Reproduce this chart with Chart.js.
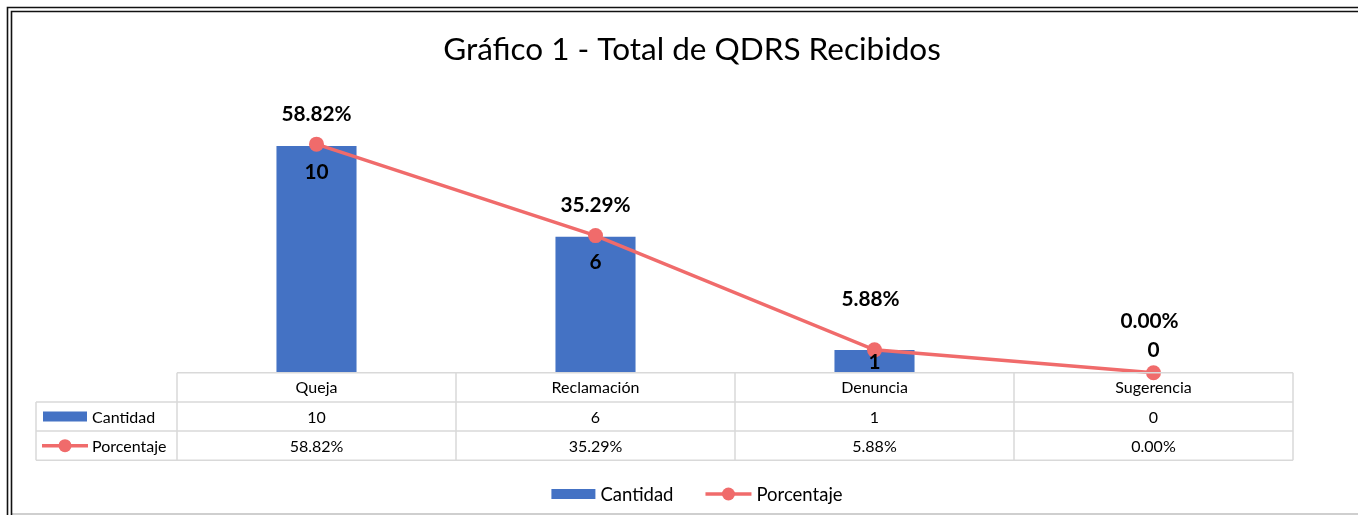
<!DOCTYPE html>
<html>
<head>
<meta charset="utf-8">
<script src="https://cdn.jsdelivr.net/npm/chart.js@4.4.0/dist/chart.umd.min.js"></script>
<style>
    html, body { margin: 0; padding: 0; background: #fff; }
    #wrap { position: relative; width: 1358px; height: 515px; }
</style>
</head>
<body>
<div id="wrap"><canvas id="chart" width="1358" height="515"></canvas></div>
<script>
const categories = ['Queja', 'Reclamación', 'Denuncia', 'Sugerencia'];
const cantidad = [10, 6, 1, 0];
const porcentaje = [58.82, 35.29, 5.88, 0.00];
const cantidadLabels = ['10', '6', '1', '0'];
const porcentajeLabels = ['58.82%', '35.29%', '5.88%', '0.00%'];
const seriesNames = ['Cantidad', 'Porcentaje'];
const titleText = 'Gráfico 1 - Total de QDRS Recibidos';

const BLUE = '#4472C4';
const CORAL = '#F06B6B';
const GRID = '#D9D9D9';
const FONT = 'Lato, "Open Sans", sans-serif';

function drawKey(ctx, type, x, y) {
    // x = left edge of key, y = vertical centre
    if (type === 'bar') {
        ctx.fillStyle = BLUE;
        ctx.fillRect(x, y - 5, 44, 10);
    } else {
        ctx.strokeStyle = CORAL;
        ctx.lineWidth = 3.5;
        ctx.beginPath();
        ctx.moveTo(x, y);
        ctx.lineTo(x + 46, y);
        ctx.stroke();
        ctx.fillStyle = CORAL;
        ctx.beginPath();
        ctx.arc(x + 23, y, 6.5, 0, Math.PI * 2);
        ctx.fill();
    }
}

const extras = {
    id: 'extras',
    beforeDraw(chart) {
        const ctx = chart.ctx;
        ctx.save();
        ctx.fillStyle = '#fff';
        ctx.fillRect(0, 0, chart.width, chart.height);
        ctx.restore();
    },
    afterDraw(chart) {
        const ctx = chart.ctx;
        const area = chart.chartArea;
        const x = chart.scales.x;
        const y = chart.scales.y;
        const y1 = chart.scales.y1;
        const colW = area.width / categories.length;
        ctx.save();

        // outer frame
        ctx.strokeStyle = '#BFBFBF';
        ctx.lineWidth = 1.5;
        ctx.beginPath();
        ctx.moveTo(12, 514);
        ctx.lineTo(chart.width, 514);
        ctx.stroke();
        ctx.strokeStyle = '#111';
        ctx.lineWidth = 1.6;
        [7.5, 11.5].forEach(p => {
            ctx.beginPath();
            ctx.moveTo(p, chart.height);
            ctx.lineTo(p, p);
            ctx.lineTo(chart.width, p);
            ctx.stroke();
        });

        // title
        ctx.fillStyle = '#000';
        ctx.textAlign = 'center';
        ctx.textBaseline = 'alphabetic';
        ctx.font = '31.5px ' + FONT;
        ctx.fillText(titleText, 692, 60);

        // data labels
        ctx.font = 'bold 20.8px ' + FONT;
        ctx.textBaseline = 'middle';
        const base = y.getPixelForValue(0);
        cantidad.forEach((v, i) => {
            const cx = x.getPixelForValue(i);
            const top = y.getPixelForValue(v);
            const h = base - top;
            let ly;
            if (v === 0) ly = base - 22;
            else if (h < 40) ly = (top + base) / 2 + 1;
            else ly = top + 26;
            ctx.fillText(cantidadLabels[i], cx, ly);

            const py = y1.getPixelForValue(porcentaje[i]);
            const lift = h < 40 ? 51 : 30;
            ctx.fillText(porcentajeLabels[i], cx - (h < 40 ? 4 : 0), py - lift);
        });

        // data table
        const t0 = base;
        const rowH = 29.2;
        const leftX = 36;
        ctx.strokeStyle = GRID;
        ctx.lineWidth = 1.5;
        ctx.beginPath();
        ctx.moveTo(area.left, t0); ctx.lineTo(area.right, t0);
        for (let r = 1; r <= 3; r++) {
            ctx.moveTo(leftX, t0 + rowH * r); ctx.lineTo(area.right, t0 + rowH * r);
        }
        for (let c = 0; c <= categories.length; c++) {
            const cx = area.left + colW * c;
            ctx.moveTo(cx, t0); ctx.lineTo(cx, t0 + rowH * 3);
        }
        ctx.moveTo(leftX, t0 + rowH); ctx.lineTo(leftX, t0 + rowH * 3);
        ctx.stroke();

        ctx.fillStyle = '#000';
        ctx.font = '16px ' + FONT;
        ctx.textAlign = 'center';
        categories.forEach((c, i) => {
            const cx = x.getPixelForValue(i);
            ctx.fillText(c, cx, t0 + rowH * 0.5 + 1);
            ctx.fillText(cantidadLabels[i], cx, t0 + rowH * 1.5 + 1);
            ctx.fillText(porcentajeLabels[i], cx, t0 + rowH * 2.5 + 1);
        });
        ctx.textAlign = 'left';
        drawKey(ctx, 'bar', 43, t0 + rowH * 1.5);
        drawKey(ctx, 'line', 42, t0 + rowH * 2.5);
        ctx.fillStyle = '#000';
        ctx.fillText(seriesNames[0], 92, t0 + rowH * 1.5 + 1);
        ctx.fillText(seriesNames[1], 92, t0 + rowH * 2.5 + 1);

        // bottom legend
        ctx.font = '18.5px ' + FONT;
        const w0 = ctx.measureText(seriesNames[0]).width;
        const w1 = ctx.measureText(seriesNames[1]).width;
        const total = 44 + 5 + w0 + 32 + 46 + 5 + w1;
        let lx = 697 - total / 2;
        const ly = 494;
        drawKey(ctx, 'bar', lx, ly);
        ctx.fillStyle = '#000';
        ctx.fillText(seriesNames[0], lx + 49, ly + 1);
        lx += 49 + w0 + 32;
        drawKey(ctx, 'line', lx, ly);
        ctx.fillStyle = '#000';
        ctx.fillText(seriesNames[1], lx + 51, ly + 1);

        ctx.restore();
    }
};

new Chart(document.getElementById('chart'), {
    type: 'bar',
    data: {
        labels: categories,
        datasets: [
            {
                type: 'line',
                label: seriesNames[1],
                data: porcentaje,
                yAxisID: 'y1',
                borderColor: CORAL,
                backgroundColor: CORAL,
                borderWidth: 3.5,
                pointRadius: 7.5,
                pointHoverRadius: 7.5,
                pointBorderWidth: 0,
                pointBackgroundColor: CORAL,
                tension: 0,
                clip: false,
                order: 0
            },
            {
                type: 'bar',
                label: seriesNames[0],
                data: cantidad,
                yAxisID: 'y',
                backgroundColor: BLUE,
                borderWidth: 0,
                categoryPercentage: 1,
                barPercentage: 0.287,
                order: 1
            }
        ]
    },
    options: {
        responsive: false,
        animation: false,
        devicePixelRatio: 1,
        layout: { padding: { left: 177, right: 65, top: 100.7, bottom: 142.3 } },
        plugins: {
            legend: { display: false },
            title: { display: false },
            tooltip: { enabled: false }
        },
        scales: {
            x: { display: false, offset: true },
            y: { display: false, min: 0, max: 12 },
            y1: { display: false, min: 0, max: 70, position: 'right' }
        }
    },
    plugins: [extras]
});
</script>
</body>
</html>
